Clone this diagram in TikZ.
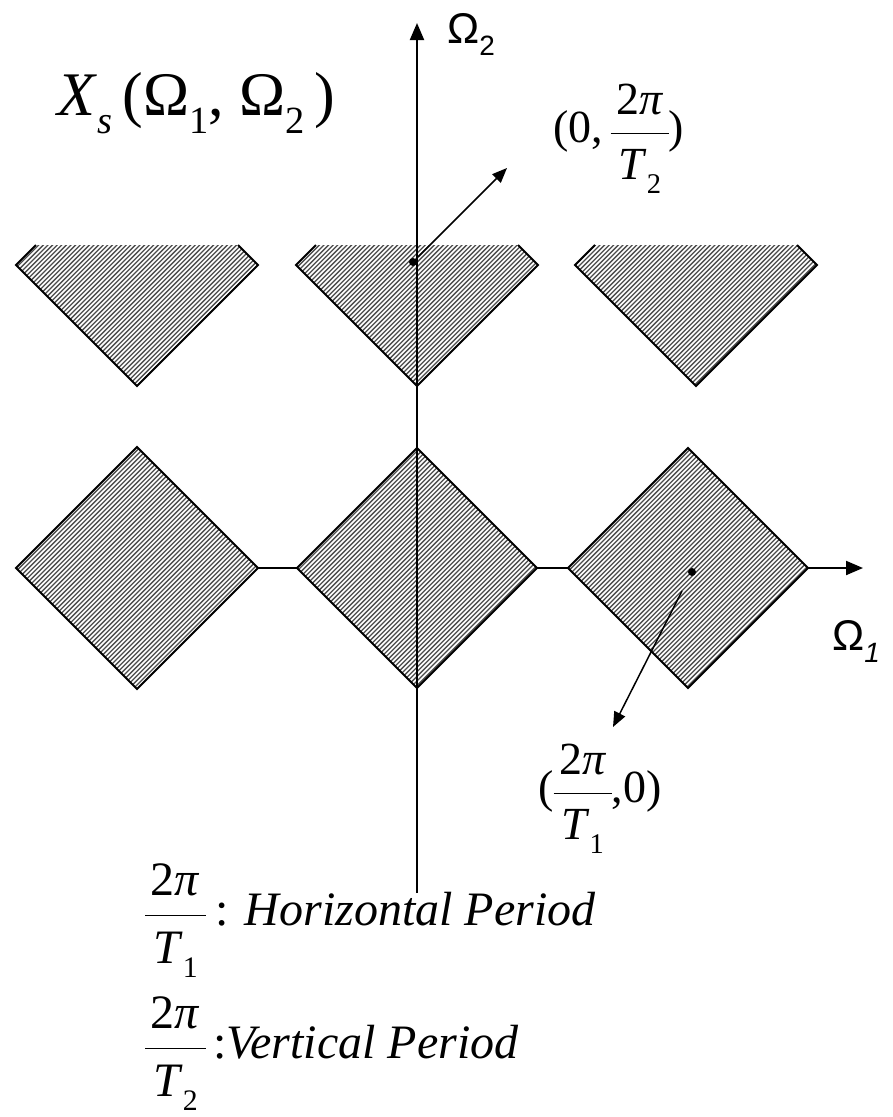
\documentclass[tikz,border=0pt]{standalone}
\usepackage{graphicx}
\usepackage{fontspec}
\setmainfont{Liberation Serif}
\newfontfamily\arialf{Liberation Sans}
\usetikzlibrary{arrows.meta}
\newcommand\sbs[1]{\raisebox{-0.3em}{\scalebox{0.62}{#1}}}
\newcommand\fr[2]{{\renewcommand\arraystretch{1.0}\setlength\arrayrulewidth{1.6pt}\begin{tabular}{@{\hspace{.12em}}c@{\hspace{.12em}}}#1\\[0.05em]\hline\rule{0pt}{0.98em}#2\end{tabular}}}
\begin{document}
\begin{tikzpicture}[x=1pt,y=-1pt,
  axis/.style={line width=2pt,-{Triangle[length=17pt,width=14pt]}},
  outline/.style={line width=2pt,line join=miter},
  hatch/.style={line width=1.3pt,black!70},
  pointer/.style={line width=1.5pt,-{Triangle[length=15pt,width=12pt]}},
  dot/.style={circle,fill,inner sep=0pt,minimum size=8pt},
  lab/.style={inner sep=0pt,anchor=base west}]
\useasboundingbox (0,0) rectangle (892,1117);
% axis coordinates
\coordinate (hstart) at (16,568);
\coordinate (hend) at (863,568);
\coordinate (vstart) at (417,893);
\coordinate (vend) at (417,23);
\draw[axis] (hstart) -- (hend);
% hatching
\begin{scope}
\clip (16,568)--(137,447)--(258,568)--(137,689)--cycle
      (297,568)--(417,448)--(537,568)--(417,688)--cycle
      (568,568)--(688,448)--(808,568)--(688,688)--cycle
      (36,245)--(16,265)--(137,386)--(258,265)--(238,245)--cycle
      (316,245)--(296,265)--(417,386)--(538,265)--(518,245)--cycle
      (595,245)--(575,265)--(696,386)--(817,265)--(797,245)--cycle;
\fill[white] (0,230) rectangle (892,700);
\foreach \c in {270,274.6,...,1400} \draw[hatch] (\c-700,700)--(\c-240,240);
\end{scope}
% outlines
\draw[outline] (16,568)--(137,447)--(258,568)--(137,689)--cycle;
\draw[outline] (297,568)--(417,448)--(537,568)--(417,688)--cycle;
\draw[outline] (568,568)--(688,448)--(808,568)--(688,688)--cycle;
\draw[outline] (36,245)--(16,265)--(137,386)--(258,265)--(238,245);
\draw[outline] (316,245)--(296,265)--(417,386)--(538,265)--(518,245);
\draw[outline] (595,245)--(575,265)--(696,386)--(817,265)--(797,245);
\draw[axis] (vstart) -- (vend);
% dots
\node[dot] (d1) at (413,262) {};
\node[dot] (d2) at (692,572) {};
\coordinate (p1s) at (418,257);
\coordinate (p1e) at (507,168);
\coordinate (p2s) at (682,591);
\coordinate (p2e) at (613,727);
\draw[pointer] (p1s) -- (p1e);
\draw[pointer] (p2s) -- (p2e);
% labels
\node[lab] (om2) at (447,43) {\arialf\fontsize{43}{43}\selectfont Ω\raisebox{-0.3em}{\scalebox{0.65}{2}}};
\node[lab] (om1) at (832,650) {\arialf\fontsize{43}{43}\selectfont Ω\raisebox{-0.3em}{\scalebox{0.65}{\itshape 1}}};
\node[lab] (xs) at (57,115) {\fontsize{62}{62}\selectfont\textit{X}\sbs{\textit{s}}\,(Ω\sbs{1}, Ω\sbs{2}\,)};
\node[lab] (pt2) at (553,142) {\fontsize{46}{55}\selectfont (0,\,\fr{2\textit{π}}{\textit{T}\sbs{2}})};
\node[lab] (pt1) at (538,802) {\fontsize{46}{55}\selectfont (\fr{2\textit{π}}{\textit{T}\sbs{1}},0)};
\node[lab] (hp) at (145,925) {\fontsize{48}{54}\selectfont \fr{2\textit{π}}{\textit{T}\sbs{1}}\hspace{.2em}: \textit{Horizontal Period}};
\node[lab] (vp) at (145,1058) {\fontsize{48}{54}\selectfont \fr{2\textit{π}}{\textit{T}\sbs{2}}\hspace{.15em}:\textit{Vertical Period}};
\end{tikzpicture}
\end{document}
